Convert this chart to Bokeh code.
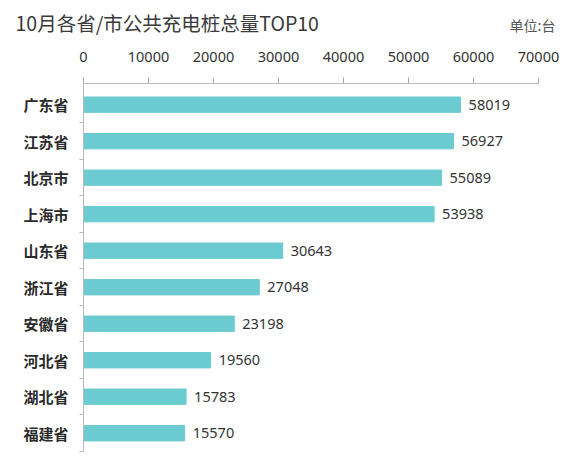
from bokeh.plotting import figure
from bokeh.layouts import column
from bokeh.models import Range1d, FixedTicker, ColumnDataSource, NumeralTickFormatter
from bokeh.core.properties import value
from bokeh.embed import file_html
from bokeh.resources import INLINE

provinces = ["广东省", "江苏省", "北京市", "上海市", "山东省",
             "浙江省", "安徽省", "河北省", "湖北省", "福建省"]
counts = [58019, 56927, 55089, 53938, 30643, 27048, 23198, 19560, 15783, 15570]
x_ticks = [0, 10000, 20000, 30000, 40000, 50000, 60000, 70000]
title = "10月各省/市公共充电桩总量TOP10"
unit = "单位:台"

n = len(provinces)
ypos = [n - 1 - i for i in range(n)]
source = ColumnDataSource(dict(y=ypos, count=counts, name=provinces,
                               label=[str(c) for c in counts]))

# header strip holding the title and the unit note
head = figure(width=573, height=36, x_range=Range1d(0, 573), y_range=Range1d(0, 36),
              x_axis_location=None, y_axis_location=None, output_backend="svg",
              toolbar_location=None, min_border=0, frame_align=False)
head.xgrid.visible = False
head.ygrid.visible = False
head.outline_line_color = None
head.text(x=[15], y=[14], text=[title], text_baseline="middle",
          text_font=value("Noto Sans CJK SC"), text_font_size="19.5px", text_color="#3a3a3a")
head.text(x=[555], y=[12], text=[unit], text_align="right", text_baseline="middle",
          text_font=value("Noto Sans CJK SC"), text_font_size="14px", text_color="#555555")

p = figure(width=573, height=418, x_range=Range1d(0, 70000), y_range=Range1d(-0.5, 9.58),
           x_axis_location="above", output_backend="svg", toolbar_location=None,
           min_border_left=83, min_border_right=35, min_border_top=47, min_border_bottom=3,
           frame_align=False)

p.hbar(y="y", right="count", left=0, height=0.42, source=source, color="#6BCBD0")
p.text(x="count", y="y", text="label", x_offset=8, text_baseline="middle",
       text_font=value("Noto Sans"), text_font_size="14.5px", text_color="#333333", source=source)

# left axis: names at bar centres, small ticks between rows
p.yaxis.ticker = FixedTicker(ticks=ypos, minor_ticks=[k + 0.5 for k in range(-1, n - 1)])
p.yaxis.major_label_overrides = {y: name for y, name in zip(ypos, provinces)}
p.yaxis.major_tick_out = 0
p.yaxis.major_tick_in = 0
p.yaxis.minor_tick_out = 4
p.yaxis.minor_tick_in = 0
p.yaxis.minor_tick_line_color = "#bbbbbb"
p.yaxis.axis_line_color = "#bbbbbb"
p.yaxis.major_label_standoff = 11
p.yaxis.major_label_text_font = "Noto Sans CJK SC"
p.yaxis.major_label_text_font_size = "15px"
p.yaxis.major_label_text_font_style = "bold"
p.yaxis.major_label_text_color = "#2a2a2a"

# top axis
p.xaxis.ticker = FixedTicker(ticks=x_ticks)
p.xaxis.formatter = NumeralTickFormatter(format="0")
p.xaxis.major_tick_out = 6
p.xaxis.major_tick_in = 0
p.xaxis.major_tick_line_color = "#aaaaaa"
p.xaxis.axis_line_color = "#bbbbbb"
p.xaxis.major_label_standoff = 16
p.xaxis.major_label_text_font = "Noto Sans"
p.xaxis.major_label_text_font_size = "14.5px"
p.xaxis.major_label_text_color = "#333333"

p.xgrid.visible = False
p.ygrid.visible = False
p.outline_line_color = None

open("out.html", "w").write(file_html(column(head, p), INLINE))
